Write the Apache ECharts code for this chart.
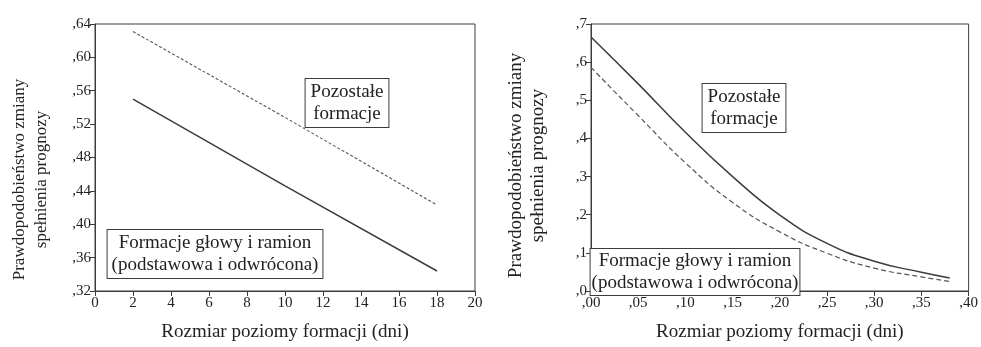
<!DOCTYPE html>
<html>
<head>
<meta charset="utf-8">
<script src="https://cdn.jsdelivr.net/npm/echarts@6/dist/echarts.min.js"></script>
<style>
  html, body { margin: 0; padding: 0; background: #fff; }
  #chart { width: 981px; height: 347px; }
</style>
</head>
<body>
<div id="chart"></div>
<script>
// left panel: probability vs. formation width (days)
const leftX = [2, 10, 18];
const leftOther = [0.631, 0.528, 0.423];   // Pozostałe formacje (dashed)
const leftHS = [0.550, 0.446, 0.344];      // Formacje głowy i ramion (solid)

// right panel: probability vs. relative formation width
const rightX = [0.00, 0.05, 0.10, 0.15, 0.20, 0.25, 0.30, 0.35, 0.38];
const rightSolid = [0.666, 0.543, 0.416, 0.300, 0.199, 0.125, 0.078, 0.049, 0.034];
const rightDashed = [0.586, 0.460, 0.336, 0.232, 0.155, 0.099, 0.060, 0.037, 0.025];

const yName = "Prawdopodobieństwo zmiany\nspełnienia prognozy";
const xName = "Rozmiar poziomy formacji (dni)";
const boxOther = "Pozostałe\nformacje";
const boxHS = "Formacje głowy i ramion\n(podstawowa i odwrócona)";

const FONT = "Liberation Serif";
const INK = "#222";
const LINE = "#3c3c3c";

const pairs = (xs, ys) => xs.map((x, i) => [x, ys[i]]);
// ",64" style labels (no leading zero, comma decimal)
const commaFmt = (digits) => (v) => v.toFixed(digits).replace(/^0\./, ",").replace(/^0$/, "," + "0".repeat(digits));

const chart = echarts.init(document.getElementById("chart"), null, { renderer: "canvas" });

function xAxis(gridIndex, min, max, interval, fmt) {
  return {
    type: "value", gridIndex, min, max, interval,
    name: xName, nameLocation: "middle", nameGap: 32,
    nameTextStyle: { fontFamily: FONT, fontSize: 19, color: INK },
    axisLine: { show: true, lineStyle: { color: LINE, width: 1 } },
    axisTick: { show: true, length: 5, lineStyle: { color: LINE } },
    axisLabel: { fontFamily: FONT, fontSize: 15, color: INK, margin: 5, formatter: fmt },
    splitLine: { show: false },
  };
}

function yAxis(gridIndex, min, max, interval, fmt, size, shift) {
  return {
    type: "value", gridIndex, min, max, interval,
    name: yName, nameLocation: "middle", nameRotate: 90, nameGap: 42,
    nameTextStyle: { fontFamily: FONT, fontSize: size, color: INK, lineHeight: 22, padding: [0, shift, 0, 0] },
    axisLine: { show: true, lineStyle: { color: LINE, width: 1 } },
    axisTick: { show: true, length: 5, lineStyle: { color: LINE } },
    axisLabel: { fontFamily: FONT, fontSize: 15, color: INK, margin: 4, padding: [6, 0, 0, 0], formatter: fmt },
    splitLine: { show: false },
  };
}

// framed annotation box, centred on (cx, cy)
function box(text, cx, cy, pad) {
  return {
    type: "text", x: cx, y: cy, z: 10,
    style: {
      text, align: "center", verticalAlign: "middle",
      font: "19px '" + FONT + "'", fill: INK, lineHeight: 22,
      backgroundColor: "#fff", borderColor: LINE, borderWidth: 1, padding: pad,
    },
  };
}

chart.setOption({
  animation: false,
  backgroundColor: "#fff",
  grid: [
    { left: 95, top: 24, width: 380, height: 273, show: true, borderColor: LINE, borderWidth: 1 },
    { left: 591, top: 24, width: 381, height: 273, show: true, borderColor: LINE, borderWidth: 1 },
  ],
  xAxis: [
    xAxis(0, 0, 20, 2, (v) => String(v)),
    xAxis(1, 0, 0.4, 0.05, commaFmt(2)),
  ],
  yAxis: [
    yAxis(0, 0.32, 0.64, 0.04, commaFmt(2), 17, 44),
    yAxis(1, 0, 0.7, 0.1, commaFmt(1), 19, 16),
  ],
  graphic: [
    box(boxOther, 347, 103, [2, 5, 2, 5]),
    box(boxHS, 215, 254, [2, 4, 2, 4]),
    box(boxOther, 744, 108, [2, 5, 2, 5]),
    box(boxHS, 695, 272, [1, 1, 1, 1]),
  ],
  series: [
    {
      type: "line", xAxisIndex: 0, yAxisIndex: 0, data: pairs(leftX, leftOther),
      showSymbol: false, lineStyle: { color: "#555", width: 1.1, type: [3, 2] }, z: 1,
    },
    {
      type: "line", xAxisIndex: 0, yAxisIndex: 0, data: pairs(leftX, leftHS),
      showSymbol: false, lineStyle: { color: LINE, width: 1.5 }, z: 1,
    },
    {
      type: "line", xAxisIndex: 1, yAxisIndex: 1, data: pairs(rightX, rightSolid), smooth: true,
      showSymbol: false, lineStyle: { color: LINE, width: 1.5 }, z: 1,
    },
    {
      type: "line", xAxisIndex: 1, yAxisIndex: 1, data: pairs(rightX, rightDashed), smooth: true,
      showSymbol: false, lineStyle: { color: "#555", width: 1.2, type: [5, 3] }, z: 1,
    },
  ],
});
</script>
</body>
</html>
